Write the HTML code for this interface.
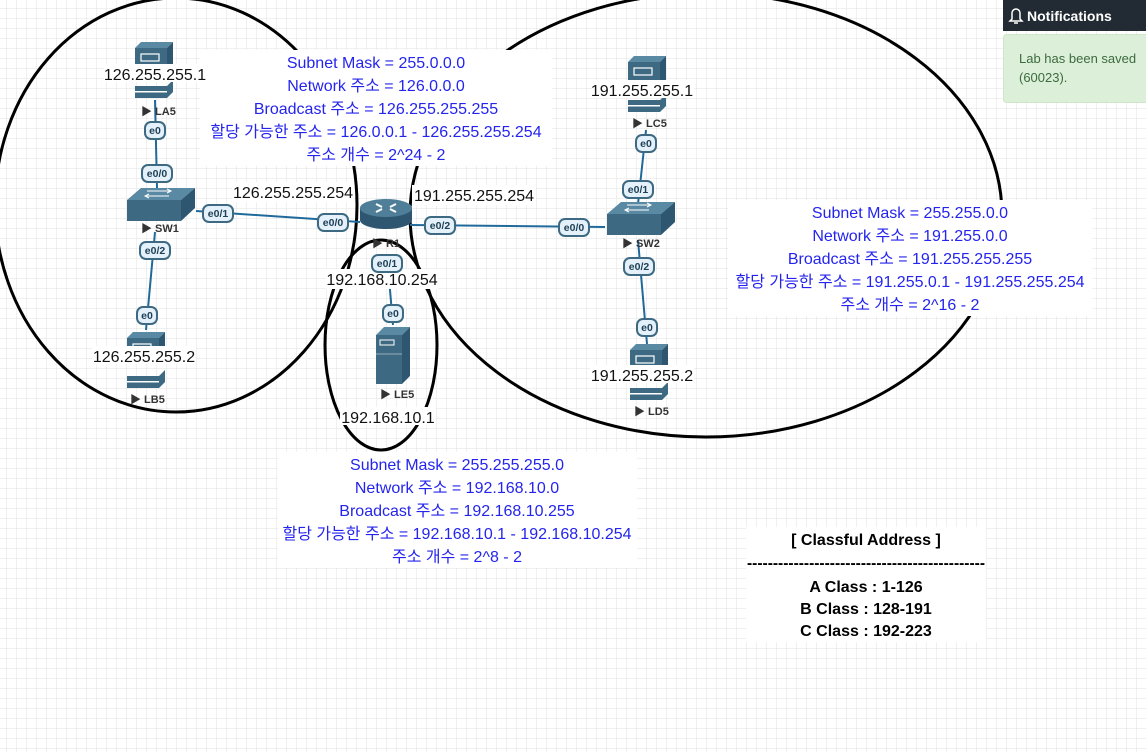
<!DOCTYPE html>
<html><head><meta charset="utf-8"><style>
html,body{margin:0;padding:0;width:1146px;height:752px;overflow:hidden;background:#fff}
svg{position:absolute;left:0;top:0}
.t{font-family:"Liberation Sans","Noto Sans CJK KR",sans-serif}
</style></head><body>
<svg width="1146" height="752" viewBox="0 0 1146 752" xmlns="http://www.w3.org/2000/svg">
<defs>
<pattern id="g" x="7" y="9" width="10" height="10" patternUnits="userSpaceOnUse">
<path d="M10 0V10M0 10H10" stroke="#e2e2e2" stroke-width="1" fill="none"/>
</pattern>
<g id="pc">
<polygon points="0,6 6,0 38,0 32,6" fill="#5a8aa3"/>
<polygon points="32,6 38,0 38,26 32,32" fill="#2e5670"/>
<rect x="0" y="6" width="32" height="26" fill="#3d6a82"/>
<rect x="6" y="12" width="18" height="7" fill="none" stroke="#fff" stroke-width="1.2"/>
<polygon points="0,44 32,44 38,38 38,50 32,56 0,56" fill="#3d6a82"/>
<rect x="0" y="49" width="32" height="1.5" fill="#fff"/>
</g>
<g id="sw">
<polygon points="0,12 14,0 68,0 54,12" fill="#5a8aa3"/>
<polygon points="54,12 68,0 68,20 54,33" fill="#2e5670"/>
<rect x="0" y="12" width="54" height="21" fill="#3d6a82"/>
<path d="M20 3H44M40 1l4 2-4 2M18 8H42M22 6l-4 2 4 2" stroke="#fff" stroke-width="1" fill="none"/>
</g>
<g id="rt">
<path d="M0 10 V22 A26 9 0 0 0 52 22 V10 Z" fill="#2e5670"/>
<ellipse cx="26" cy="10" rx="26" ry="9" fill="#4f7f98"/>
<path d="M16 6l6 3M36 6l-6 3M16 14l6-3M36 14l-6-3" stroke="#fff" stroke-width="2"/>
</g>
</defs>
<rect width="1146" height="752" fill="url(#g)"/>
<g fill="none" stroke="#000" stroke-width="3">
<ellipse cx="176" cy="205" rx="181" ry="207"/>
<ellipse cx="706" cy="215" rx="296" ry="222"/>
<ellipse cx="381" cy="345" rx="56" ry="105"/>
</g>
<g stroke="#1f6a9a" stroke-width="2">
<line x1="155" y1="100" x2="157" y2="188"/>
<line x1="155" y1="232" x2="146" y2="330"/>
<line x1="196" y1="211" x2="360" y2="222"/>
<line x1="410" y1="225" x2="605" y2="227"/>
<line x1="646" y1="130" x2="638" y2="204"/>
<line x1="638" y1="240" x2="647" y2="344"/>
<line x1="387" y1="255" x2="393" y2="325"/>
</g>
<g fill="#fff">
<rect x="200" y="50" width="352" height="116"/>
<rect x="728" y="200" width="364" height="116"/>
<rect x="278" y="452" width="359" height="116"/>
<rect x="746" y="527" width="240" height="115"/>
<rect x="232" y="182" width="122" height="20"/>
<rect x="412" y="185" width="124" height="20"/>
<rect x="326" y="269" width="112" height="20"/>
</g>
<use href="#pc" x="135" y="42"/>
<use href="#pc" x="628" y="56"/>
<use href="#pc" x="127" y="332"/>
<use href="#pc" x="630" y="344"/>
<use href="#sw" x="127" y="188"/>
<use href="#sw" x="607" y="202"/>
<use href="#rt" x="360" y="198"/>
<g>
<polygon points="376,335 384,327 410,327 402,335" fill="#5a8aa3"/>
<polygon points="402,335 410,327 410,376 402,384" fill="#2e5670"/>
<rect x="376" y="335" width="26" height="49" fill="#3d6a82"/>
<rect x="380" y="340" width="14" height="5" fill="none" stroke="#fff"/>
<line x1="376" y1="354" x2="402" y2="354" stroke="#9ab" />
</g>
<g class="t" font-size="16" text-anchor="middle" fill="#111">
<rect x="104" y="64" width="104" height="18" fill="#fff"/>
<text x="155" y="80">126.255.255.1</text>
<rect x="592" y="80" width="102" height="18" fill="#fff"/>
<text x="642" y="96">191.255.255.1</text>
<rect x="92" y="346" width="104" height="18" fill="#fff"/>
<text x="144" y="362">126.255.255.2</text>
<rect x="590" y="365" width="104" height="18" fill="#fff"/>
<text x="642" y="381">191.255.255.2</text>
<rect x="340" y="407" width="96" height="18" fill="#fff"/>
<text x="388" y="423">192.168.10.1</text>
<text x="293" y="198">126.255.255.254</text>
<text x="474" y="201">191.255.255.254</text>
<text x="382" y="285">192.168.10.254</text>
</g>
<g class="t" font-size="11" font-weight="bold" fill="#333">
<text x="141" y="115">▶ LA5</text>
<text x="141" y="232">▶ SW1</text>
<text x="130" y="403">▶ LB5</text>
<text x="372" y="247">▶ R1</text>
<text x="632" y="127">▶ LC5</text>
<text x="622" y="247">▶ SW2</text>
<text x="634" y="415">▶ LD5</text>
<text x="380" y="398">▶ LE5</text>
</g>
<g class="t" font-size="10.5" font-weight="bold" text-anchor="middle" fill="#1e3f55">
<g fill="#e4f1fa" stroke="#3d6a82" stroke-width="2">
<rect x="145" y="122" width="20" height="17" rx="6"/>
<rect x="142" y="165" width="30" height="17" rx="6"/>
<rect x="140" y="242" width="30" height="17" rx="6"/>
<rect x="137" y="307" width="20" height="17" rx="6"/>
<rect x="203" y="205" width="30" height="17" rx="6"/>
<rect x="318" y="214" width="30" height="17" rx="6"/>
<rect x="425" y="217" width="30" height="17" rx="6"/>
<rect x="559" y="219" width="30" height="17" rx="6"/>
<rect x="636" y="135" width="20" height="17" rx="6"/>
<rect x="623" y="181" width="30" height="17" rx="6"/>
<rect x="624" y="258" width="30" height="17" rx="6"/>
<rect x="637" y="319" width="20" height="17" rx="6"/>
<rect x="372" y="255" width="30" height="17" rx="6"/>
<rect x="383" y="305" width="20" height="17" rx="6"/>
</g>
<text x="155" y="134">e0</text>
<text x="157" y="177">e0/0</text>
<text x="155" y="254">e0/2</text>
<text x="147" y="319">e0</text>
<text x="218" y="217">e0/1</text>
<text x="333" y="226">e0/0</text>
<text x="440" y="229">e0/2</text>
<text x="574" y="231">e0/0</text>
<text x="646" y="147">e0</text>
<text x="638" y="193">e0/1</text>
<text x="639" y="270">e0/2</text>
<text x="647" y="331">e0</text>
<text x="387" y="267">e0/1</text>
<text x="393" y="317">e0</text>
</g>
<g class="t" font-size="16" text-anchor="middle" fill="#2424ee">
<text x="376" y="68">Subnet Mask = 255.0.0.0</text>
<text x="376" y="91">Network 주소 = 126.0.0.0</text>
<text x="376" y="114">Broadcast 주소 = 126.255.255.255</text>
<text x="376" y="137">할당 가능한 주소 = 126.0.0.1 - 126.255.255.254</text>
<text x="376" y="160">주소 개수 = 2^24 - 2</text>
<text x="910" y="218">Subnet Mask = 255.255.0.0</text>
<text x="910" y="241">Network 주소 = 191.255.0.0</text>
<text x="910" y="264">Broadcast 주소 = 191.255.255.255</text>
<text x="910" y="287">할당 가능한 주소 = 191.255.0.1 - 191.255.255.254</text>
<text x="910" y="310">주소 개수 = 2^16 - 2</text>
<text x="457" y="470">Subnet Mask = 255.255.255.0</text>
<text x="457" y="493">Network 주소 = 192.168.10.0</text>
<text x="457" y="516">Broadcast 주소 = 192.168.10.255</text>
<text x="457" y="539">할당 가능한 주소 = 192.168.10.1 - 192.168.10.254</text>
<text x="457" y="562">주소 개수 = 2^8 - 2</text>
</g>
<g class="t" font-size="16" font-weight="bold" text-anchor="middle" fill="#000">
<text x="866" y="545">[ Classful Address ]</text>
<text x="866" y="568" textLength="238" lengthAdjust="spacingAndGlyphs">----------------------------------------------</text>
<text x="866" y="592">A Class : 1-126</text>
<text x="866" y="614">B Class : 128-191</text>
<text x="866" y="636">C Class : 192-223</text>
</g>
<rect x="1003" y="0" width="143" height="31" fill="#222b33"/>
<path d="M1012 19 v-6 a4 4 0 0 1 8 0 v6 l2 2 h-12 z M1014 23 h4" stroke="#fff" stroke-width="1.5" fill="none"/>
<text class="t" x="1027" y="21" font-size="14" font-weight="bold" fill="#fff">Notifications</text>
<rect x="1003.5" y="34.5" width="150" height="68" rx="3" fill="#dcefd8" stroke="#cfe6c9"/>
<text class="t" x="1019" y="63" font-size="13" fill="#3d6b40">Lab has been saved</text>
<text class="t" x="1019" y="82" font-size="13" fill="#3d6b40">(60023).</text>
</svg>
</body></html>
